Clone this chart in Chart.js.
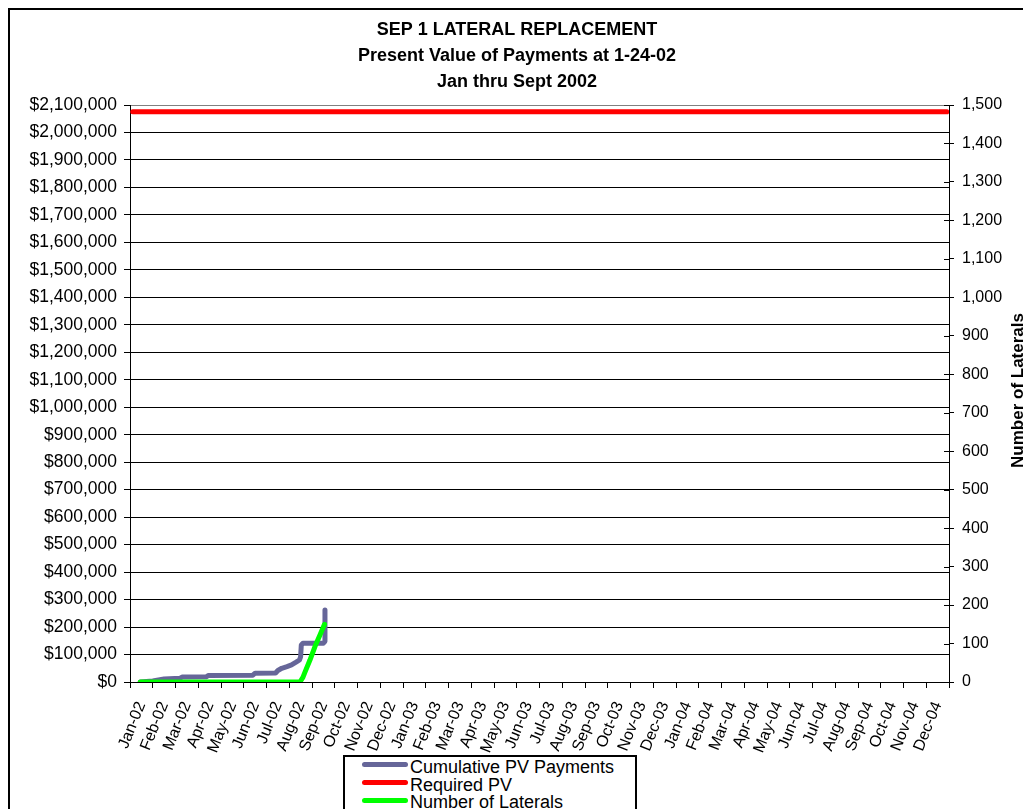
<!DOCTYPE html>
<html>
<head>
<meta charset="utf-8">
<script src="https://cdn.jsdelivr.net/npm/chart.js@4.4.1/dist/chart.umd.min.js"></script>
<style>
  html, body { margin: 0; padding: 0; background: #fff; overflow: hidden; }
  #frame { position: absolute; left: 8px; top: 8px; width: 1014px; height: 830px; border: 2px solid #000; }
  #chart { position: absolute; left: 0; top: 0; }
  #legend {
    position: absolute; left: 343px; top: 755px; width: 273px;
    border: 2px solid #000; background: #fff; padding: 2px 0 4px 17px;
    font: 18px "Liberation Sans", Arial, sans-serif; color: #000;
  }
  #legend .row { display: flex; align-items: center; height: 17.7px; line-height: 17.7px; white-space: nowrap; }
  #legend .swatch { display: inline-block; width: 46px; height: 5px; border-radius: 3px; margin-right: 2px; position: relative; top: -3px; }
</style>
</head>
<body>
<div id="frame">
  <canvas id="chart" width="1014" height="830"></canvas>
</div>
<div id="legend"></div>
<script>
  // Подписи и данные (месяцы отсчитываются от 1 янв 2002, дробная часть = доля месяца)
  const titleLines = ['SEP 1 LATERAL REPLACEMENT', 'Present Value of Payments at 1-24-02', 'Jan thru Sept 2002'];
  const rightAxisTitle = 'Number of Laterals';

  const monthLabels = [
    'Jan-02', 'Feb-02', 'Mar-02', 'Apr-02', 'May-02', 'Jun-02', 'Jul-02', 'Aug-02', 'Sep-02', 'Oct-02', 'Nov-02', 'Dec-02',
    'Jan-03', 'Feb-03', 'Mar-03', 'Apr-03', 'May-03', 'Jun-03', 'Jul-03', 'Aug-03', 'Sep-03', 'Oct-03', 'Nov-03', 'Dec-03',
    'Jan-04', 'Feb-04', 'Mar-04', 'Apr-04', 'May-04', 'Jun-04', 'Jul-04', 'Aug-04', 'Sep-04', 'Oct-04', 'Nov-04', 'Dec-04'
  ];

  // Cumulative PV Payments ($)
  const pvMonths = [0.45, 1.0, 1.5, 2.2, 2.3, 3.35, 3.45, 5.4, 5.5, 6.4, 6.5, 6.67, 6.9, 7.1, 7.3, 7.45, 7.5, 7.53, 7.6, 8.5, 8.57, 8.57];
  const pvValues = [0, 4000, 11000, 14000, 18000, 19000, 24000, 25000, 32000, 33000, 42000, 50000, 56000, 62000, 72000, 80000, 92000, 135000, 141000, 141000, 148000, 262000];

  // Required PV ($)
  const requiredMonths = [0.12, 35.9];
  const requiredValues = [2075000, 2075000];

  // Number of Laterals (правая ось)
  const lateralMonths = [0.45, 7.47, 7.6, 7.7, 7.91, 8.13, 8.35, 8.55];
  const lateralValues = [0, 0, 12, 27, 57, 92, 122, 150];

  const FONT = '"Liberation Sans", Arial, sans-serif';
  Chart.defaults.font.family = FONT;
  Chart.defaults.color = '#000';

  function toPoints(xs, ys) {
    return xs.map((x, i) => ({ x: x, y: ys[i] }));
  }

  // Подпись правой оси (читается снизу вверх) + внутренние засечки правой оси
  const rightAxisPlugin = {
    id: 'rightAxisPlugin',
    afterDraw(chart) {
      const { ctx, chartArea, scales } = chart;
      ctx.save();
      ctx.strokeStyle = '#000';
      ctx.lineWidth = 1;
      scales.y1.ticks.forEach(t => {
        const y = Math.round(scales.y1.getPixelForValue(t.value)) + 0.5;
        ctx.beginPath();
        ctx.moveTo(chartArea.right - 5, y);
        ctx.lineTo(chartArea.right, y);
        ctx.stroke();
      });
      ctx.translate(1008, (chartArea.top + chartArea.bottom) / 2 - 3);
      ctx.rotate(-Math.PI / 2);
      ctx.font = 'bold 17px ' + FONT;
      ctx.fillStyle = '#000';
      ctx.textAlign = 'center';
      ctx.textBaseline = 'middle';
      ctx.fillText(rightAxisTitle, 0, 0);
      ctx.restore();
    }
  };

  const chart = new Chart(document.getElementById('chart').getContext('2d'), {
    type: 'line',
    data: {
      datasets: [{
        label: 'Cumulative PV Payments',
        data: toPoints(pvMonths, pvValues),
        borderColor: '#666699',
        borderWidth: 5,
        pointRadius: 0,
        tension: 0,
        borderJoinStyle: 'round',
        borderCapStyle: 'round',
        yAxisID: 'y',
        order: 1
      }, {
        label: 'Required PV',
        data: toPoints(requiredMonths, requiredValues),
        borderColor: '#FF0000',
        borderWidth: 5,
        pointRadius: 0,
        borderCapStyle: 'round',
        yAxisID: 'y',
        order: 2
      }, {
        label: 'Number of Laterals',
        data: toPoints(lateralMonths, lateralValues),
        borderColor: '#00FF00',
        borderWidth: 5,
        pointRadius: 0,
        tension: 0,
        borderJoinStyle: 'round',
        borderCapStyle: 'round',
        yAxisID: 'y1',
        order: 0
      }]
    },
    options: {
      responsive: false,
      animation: false,
      layout: { padding: 0 },
      plugins: {
        legend: { display: false },
        tooltip: { enabled: false },
        title: {
          display: true,
          text: titleLines,
          color: '#000',
          font: { size: 18, weight: 'bold', lineHeight: 26 / 18 },
          padding: { top: 7, bottom: 10 }
        }
      },
      scales: {
        x: {
          type: 'linear',
          min: 0,
          max: 36,
          afterBuildTicks: scale => {
            scale.ticks = monthLabels.map((_, i) => ({ value: i + 0.5 }));
          },
          afterFit: scale => { scale.height = 158; },
          ticks: {
            autoSkip: false,
            minRotation: 68,
            maxRotation: 68,
            padding: 11,
            color: '#000',
            font: { size: 16 },
            callback: (v, i) => monthLabels[i]
          },
          grid: { offset: true, drawOnChartArea: false, color: '#000', tickLength: 6 },
          border: { color: '#000', width: 1 }
        },
        y: {
          position: 'left',
          min: 0,
          max: 2100000,
          afterFit: scale => { scale.width = 120; },
          ticks: {
            stepSize: 100000,
            padding: 7,
            color: '#000',
            font: { size: 17.5 },
            callback: v => '$' + v.toLocaleString('en-US')
          },
          grid: {
            color: c => (c.tick && c.tick.value === 2100000 ? '#808080' : '#000'),
            tickColor: '#000',
            tickLength: 6,
            lineWidth: 1
          },
          border: { color: '#000', width: 1 }
        },
        y1: {
          position: 'right',
          min: 0,
          max: 1500,
          afterFit: scale => { scale.width = 75; },
          ticks: {
            stepSize: 100,
            padding: 8,
            color: '#000',
            font: { size: 16 },
            callback: v => v.toLocaleString('en-US')
          },
          grid: { drawOnChartArea: false, color: '#000', tickLength: 5 },
          border: { color: '#000', width: 1 }
        }
      }
    },
    plugins: [rightAxisPlugin]
  });

  // Легенда: по одной строке на набор данных
  const legend = document.getElementById('legend');
  chart.data.datasets.forEach(ds => {
    const row = document.createElement('div');
    row.className = 'row';
    const sw = document.createElement('span');
    sw.className = 'swatch';
    sw.style.background = ds.borderColor;
    const txt = document.createElement('span');
    txt.textContent = ds.label;
    row.appendChild(sw);
    row.appendChild(txt);
    legend.appendChild(row);
  });
</script>
</body>
</html>
